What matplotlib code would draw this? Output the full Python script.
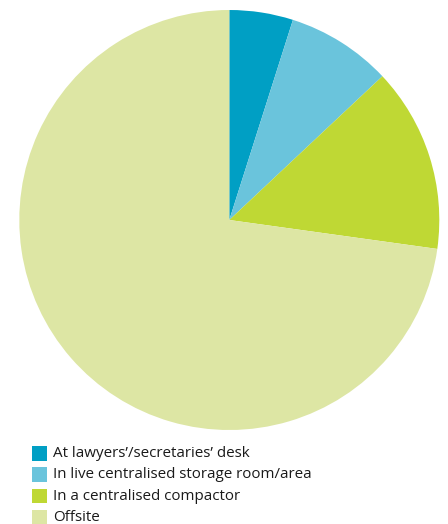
import matplotlib
matplotlib.use("Agg")
import matplotlib.pyplot as plt
from matplotlib.patches import Rectangle

labels = [
    "At lawyers\u2019/secretaries\u2019 desk",
    "In live centralised storage room/area",
    "In a centralised compactor",
    "Offsite",
]
shares = [4.9, 8.1, 14.2, 72.8]
colors = ["#009fc4", "#6ac4dc", "#bfd834", "#dde6a4"]

W, H = 448, 524
fig = plt.figure(figsize=(W / 100, H / 100), dpi=100)
fig.patch.set_facecolor("white")

# pie centred at (229, 220) px with radius 210 px
cx, cy, r = 229.3, 220.0, 210.0
ax = fig.add_axes([(cx - r) / W, (H - cy - r) / H, 2 * r / W, 2 * r / H])
ax.pie(shares, colors=colors, startangle=90, counterclock=False,
       radius=1.0, wedgeprops=dict(linewidth=0))
ax.set_xlim(-1, 1)
ax.set_ylim(-1, 1)
ax.set_aspect("equal")
ax.axis("off")

# legend: coloured squares with labels
for i, (lab, col) in enumerate(zip(labels, colors)):
    top = 446 + i * 21.3
    fig.patches.append(Rectangle((32 / W, 1 - (top + 14.5) / H), 14.5 / W, 14.5 / H,
                                 transform=fig.transFigure, facecolor=col,
                                 edgecolor="none"))
    fig.text(53 / W, 1 - (top + 7.5) / H, lab, family="Open Sans", fontsize=10.9,
             color="#1a1a1a", va="center", ha="left")

fig.savefig("out.png", dpi=100, facecolor="white")
